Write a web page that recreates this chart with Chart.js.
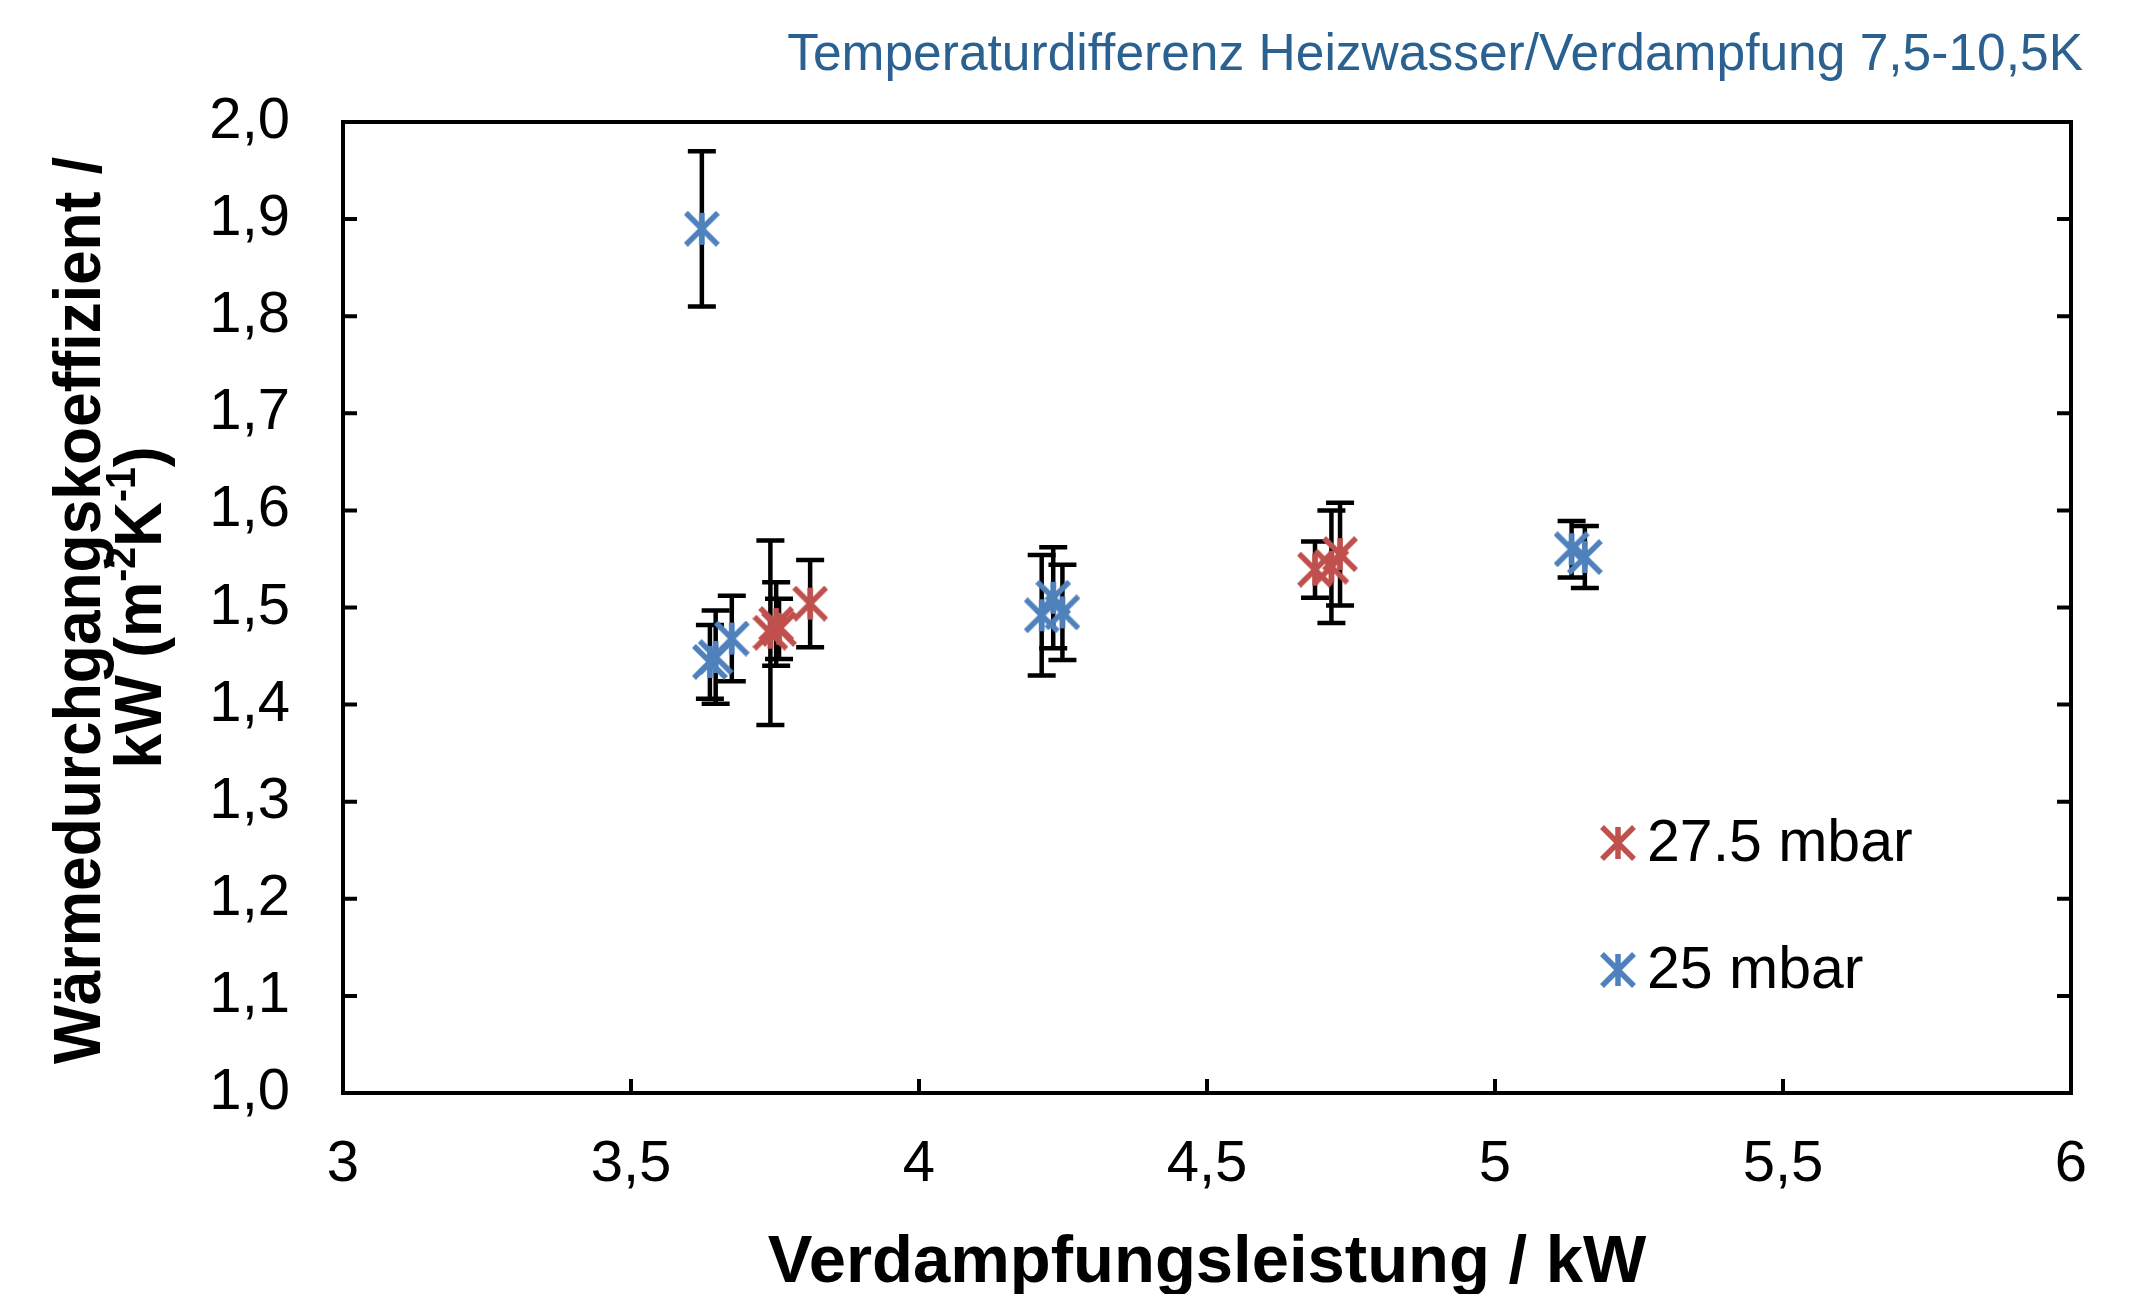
<!DOCTYPE html>
<html>
<head>
<meta charset="utf-8">
<script src="https://cdn.jsdelivr.net/npm/chart.js@4/dist/chart.umd.min.js"></script>
<style>
html,body{margin:0;padding:0;background:#fff;}
canvas{display:block;}
</style>
</head>
<body>
<canvas id="c" width="2151" height="1294"></canvas>
<script>
// ---- data ----
const seriesNames = ['27.5 mbar', '25 mbar'];
const redX   = [3.742, 3.752, 3.757, 3.811, 4.6875, 4.716, 4.731];
const redY   = [1.474, 1.483, 1.478, 1.504, 1.539, 1.542, 1.555];
const redErr = [0.095, 0.043, 0.031, 0.045, 0.029, 0.058, 0.053];
const blueX   = [3.623, 3.637, 3.647, 3.675, 4.213, 4.233, 4.249, 5.133, 5.156];
const blueY   = [1.890, 1.444, 1.449, 1.468, 1.492, 1.510, 1.495, 1.560, 1.552];
const blueErr = [0.080, 0.038, 0.048, 0.044, 0.062, 0.052, 0.049, 0.029, 0.032];
const xTickLabels = ['3', '3,5', '4', '4,5', '5', '5,5', '6'];
const yTickLabels = ['1,0', '1,1', '1,2', '1,3', '1,4', '1,5', '1,6', '1,7', '1,8', '1,9', '2,0'];
const chartTitle = 'Temperaturdifferenz Heizwasser/Verdampfung 7,5-10,5K';
const xTitle = 'Verdampfungsleistung / kW';
const yTitleLine1 = 'Wärmedurchgangskoeffizient /';
const yTitleParts = [['kW (m', false], ['-2', true], ['K', false], ['-1', true], [')', false]];

const RED = '#c0504d';
const BLUE = '#4f81bd';

function makeStar(color) {
  const s = 36, m = 2;
  const cv = document.createElement('canvas');
  cv.width = s; cv.height = s;
  const g = cv.getContext('2d');
  g.strokeStyle = color; g.lineWidth = 5.5; g.lineCap = 'butt';
  g.beginPath();
  g.moveTo(m, m); g.lineTo(s - m, s - m);
  g.moveTo(s - m, m); g.lineTo(m, s - m);
  g.moveTo(s / 2, m); g.lineTo(s / 2, s - m);
  g.stroke();
  return cv;
}
const redStar = makeStar(RED);
const blueStar = makeStar(BLUE);

function pts(xs, ys) { return xs.map((x, i) => ({x: x, y: ys[i]})); }

const errorBars = {
  id: 'errorBars',
  beforeDatasetsDraw(chart) {
    const ctx = chart.ctx, xs = chart.scales.x, ys = chart.scales.y;
    ctx.save();
    ctx.strokeStyle = '#000'; ctx.lineWidth = 4.5; ctx.lineCap = 'butt';
    chart.data.datasets.forEach(ds => {
      ds.data.forEach((p, i) => {
        const e = ds.errors[i];
        const px = xs.getPixelForValue(p.x);
        const top = ys.getPixelForValue(p.y + e);
        const bot = ys.getPixelForValue(p.y - e);
        ctx.beginPath();
        ctx.moveTo(px, top); ctx.lineTo(px, bot);
        ctx.moveTo(px - 14, top); ctx.lineTo(px + 14, top);
        ctx.moveTo(px - 14, bot); ctx.lineTo(px + 14, bot);
        ctx.stroke();
      });
    });
    ctx.restore();
  }
};

const frameAndText = {
  id: 'frameAndText',
  afterDraw(chart) {
    const ctx = chart.ctx, a = chart.chartArea, xs = chart.scales.x, ys = chart.scales.y;
    ctx.save();
    // frame
    ctx.strokeStyle = '#000'; ctx.lineWidth = 4;
    ctx.strokeRect(a.left, a.top, a.right - a.left, a.bottom - a.top);
    // inward ticks
    ctx.beginPath();
    xs.ticks.forEach(t => {
      const px = xs.getPixelForValue(t.value);
      ctx.moveTo(px, a.bottom); ctx.lineTo(px, a.bottom - 14);
    });
    ys.ticks.forEach(t => {
      const py = ys.getPixelForValue(t.value);
      ctx.moveTo(a.left, py); ctx.lineTo(a.left + 14, py);
      ctx.moveTo(a.right, py); ctx.lineTo(a.right - 14, py);
    });
    ctx.stroke();

    // title top right
    ctx.fillStyle = '#2a6190';
    ctx.font = '51.5px "Liberation Sans", Arial, sans-serif';
    ctx.textAlign = 'right'; ctx.textBaseline = 'alphabetic';
    ctx.fillText(chartTitle, 2083, 70);

    // x title
    ctx.fillStyle = '#000';
    ctx.font = 'bold 67px "Liberation Sans", Arial, sans-serif';
    ctx.textAlign = 'center';
    ctx.fillText(xTitle, (a.left + a.right) / 2, 1282);

    // y title
    const cy = (a.top + a.bottom) / 2;
    ctx.save();
    ctx.translate(82, cy + 3);
    ctx.rotate(-Math.PI / 2);
    ctx.scale(0.93, 1);
    ctx.textBaseline = 'middle';
    ctx.textAlign = 'center';
    ctx.font = 'bold 67px "Liberation Sans", Arial, sans-serif';
    ctx.fillText(yTitleLine1, 0, 0);
    ctx.restore();

    ctx.save();
    ctx.translate(143, cy);
    ctx.rotate(-Math.PI / 2);
    ctx.scale(0.93, 1);
    ctx.textBaseline = 'middle';
    ctx.textAlign = 'left';
    const big = 'bold 67px "Liberation Sans", Arial, sans-serif';
    const small = 'bold 42px "Liberation Sans", Arial, sans-serif';
    let total = 0;
    yTitleParts.forEach(([t, sup]) => { ctx.font = sup ? small : big; total += ctx.measureText(t).width; });
    let x = -total / 2;
    yTitleParts.forEach(([t, sup]) => {
      ctx.font = sup ? small : big;
      ctx.fillText(t, x, sup ? -20 : 0);
      x += ctx.measureText(t).width;
    });
    ctx.restore();

    // legend
    const legendItems = [[seriesNames[0], redStar, 843], [seriesNames[1], blueStar, 970]];
    ctx.font = '59px "Liberation Sans", Arial, sans-serif';
    ctx.textAlign = 'left'; ctx.textBaseline = 'middle';
    ctx.fillStyle = '#000';
    legendItems.forEach(([label, img, y]) => {
      ctx.drawImage(img, 1618 - 18, y - 18);
      ctx.fillText(label, 1647, y + 2);
    });
    ctx.restore();
  }
};

new Chart(document.getElementById('c'), {
  type: 'scatter',
  data: {
    datasets: [
      { label: seriesNames[0], data: pts(redX, redY), errors: redErr,
        pointStyle: redStar, pointRadius: 18, pointHoverRadius: 18,
        borderColor: RED, backgroundColor: RED },
      { label: seriesNames[1], data: pts(blueX, blueY), errors: blueErr,
        pointStyle: blueStar, pointRadius: 18, pointHoverRadius: 18,
        borderColor: BLUE, backgroundColor: BLUE }
    ]
  },
  options: {
    responsive: false,
    animation: false,
    events: [],
    layout: { padding: { left: 0, top: 122, right: 80, bottom: 0 } },
    plugins: { legend: { display: false }, title: { display: false }, tooltip: { enabled: false } },
    scales: {
      x: {
        type: 'linear', min: 3, max: 6,
        afterFit: s => { s.height = 201; },
        grid: { display: false, drawTicks: false },
        border: { display: false },
        ticks: {
          stepSize: 0.5, padding: 37, color: '#000',
          font: { family: '"Liberation Sans", Arial, sans-serif', size: 58 },
          callback: (v, i) => xTickLabels[i]
        }
      },
      y: {
        type: 'linear', min: 1, max: 2,
        afterFit: s => { s.width = 343; },
        grid: { display: false, drawTicks: false },
        border: { display: false },
        ticks: {
          stepSize: 0.1, padding: 53, color: '#000',
          font: { family: '"Liberation Sans", Arial, sans-serif', size: 58 },
          callback: (v, i) => yTickLabels[i]
        }
      }
    }
  },
  plugins: [errorBars, frameAndText]
});
</script>
</body>
</html>
